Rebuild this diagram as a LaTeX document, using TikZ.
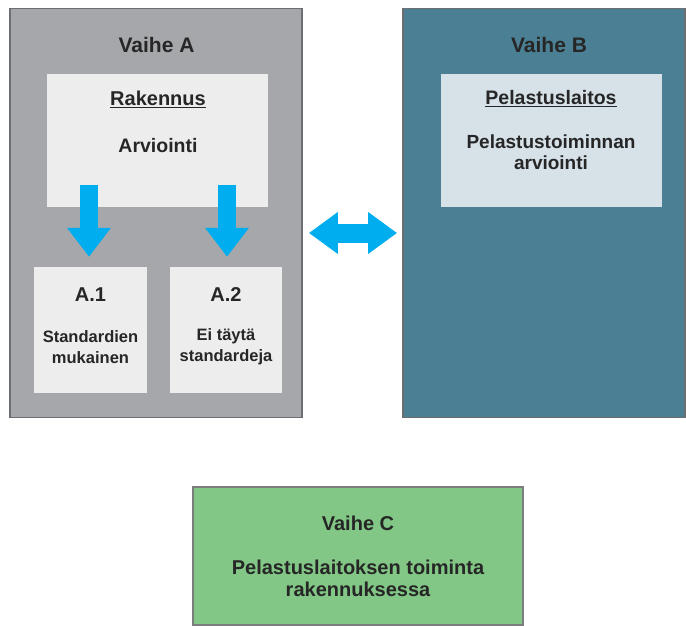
\documentclass[tikz,border=0pt]{standalone}
\usepackage{fontspec}
\setmainfont{Liberation Sans}
\usetikzlibrary{arrows.meta}

\definecolor{vaiheharmaa}{HTML}{A6A7AA}
\definecolor{vaihesini}{HTML}{4A7F94}
\definecolor{vaihevihrea}{HTML}{82C785}
\definecolor{sisaharmaa}{HTML}{EDEDED}
\definecolor{sisasini}{HTML}{D6E1E8}
\definecolor{nuoli}{HTML}{00AEEF}
\definecolor{reuna}{HTML}{6D6E71}
\definecolor{teksti}{HTML}{262626}

\tikzset{
  vaihe/.style={draw=reuna, line width=1.8pt, inner sep=0pt},
  laatikko/.style={inner sep=0pt},
  otsikko/.style={font=\fontsize{21}{25}\selectfont\bfseries, text=teksti},
  leipa/.style={font=\fontsize{19.5}{22}\selectfont\bfseries, text=teksti, align=center},
  pieni/.style={font=\fontsize{16.5}{21}\selectfont\bfseries, text=teksti, align=center},
  alasnuoli/.style={nuoli, line width=18pt, -{Triangle[width=42pt,length=29pt]}},
}

\begin{document}
\begin{tikzpicture}[x=1pt,y=-1pt]
    \useasboundingbox (0,0) rectangle (686,626);

    % Vaihe A
    \node[vaihe, fill=vaiheharmaa, minimum width=292pt, minimum height=409pt] (vaiheA) at (156,213) {};
    \node[otsikko] (otsA) at (156.5,45) {Vaihe A};

    % Rakennus
    \node[laatikko, fill=sisaharmaa, minimum width=221pt, minimum height=133pt] (rak) at (157.5,140.5) {};
    \node[otsikko, font=\fontsize{20}{24}\selectfont\bfseries] (rakotsikko) at (158,99) {\underline{Rakennus}};
    \node[leipa] (arv) at (158,146) {Arviointi};

    % A.1 ja A.2
    \node[laatikko, fill=sisaharmaa, minimum width=113pt, minimum height=126pt] (a1) at (90.5,330) {};
    \node[otsikko, font=\fontsize{20}{24}\selectfont\bfseries] (a1otsikko) at (90.5,295) {A.1};
    \node[pieni] (a1teksti) at (90.5,347) {Standardien\\mukainen};
    \node[laatikko, fill=sisaharmaa, minimum width=112pt, minimum height=126pt] (a2) at (226,330) {};
    \node[otsikko, font=\fontsize{20}{24}\selectfont\bfseries] (a2otsikko) at (226,295) {A.2};
    \node[pieni] (a2teksti) at (226,347) {Ei täytä\\standardeja};

    % Nuolet alas
    \coordinate (k1) at (89,185);
    \coordinate (k2) at (227,185);
    \draw[alasnuoli] (k1) -- ([yshift=10pt]k1 |- a1.north);
    \draw[alasnuoli] (k2) -- ([yshift=10pt]k2 |- a2.north);

    % Vaihe B
    \node[vaihe, fill=vaihesini, minimum width=282pt, minimum height=409pt] (vaiheB) at (544,213) {};
    \node[otsikko] (otsB) at (549,45) {Vaihe B};
    \node[laatikko, fill=sisasini, minimum width=221pt, minimum height=133pt] (pel) at (551.5,140.5) {};
    \node[otsikko, font=\fontsize{19.5}{23}\selectfont\bfseries] (pelotsikko) at (551,99) {\underline{Pelastuslaitos}};
    \node[leipa, font=\fontsize{19}{21.5}\selectfont\bfseries] (peltoim) at (551,152) {Pelastustoiminnan\\arviointi};

    % Kaksisuuntainen nuoli
    \draw[nuoli, line width=19pt, {Triangle[width=40pt,length=29pt]}-{Triangle[width=40pt,length=29pt]}]
      ([xshift=6pt]vaiheA.east |- 0,233) -- ([xshift=-5pt]vaiheB.west |- 0,233);

    % Vaihe C
    \node[vaihe, draw=reuna!90, line width=1.4pt, fill=vaihevihrea, minimum width=330pt, minimum height=138pt] (vaiheC) at (358,556) {};
    \node[otsikko, font=\fontsize{20}{24}\selectfont\bfseries] (otsC) at (358,523) {Vaihe C};
    \node[leipa, font=\fontsize{20}{22}\selectfont\bfseries] (ctoim) at (358,578) {Pelastuslaitoksen toiminta\\rakennuksessa};

\end{tikzpicture}
\end{document}
